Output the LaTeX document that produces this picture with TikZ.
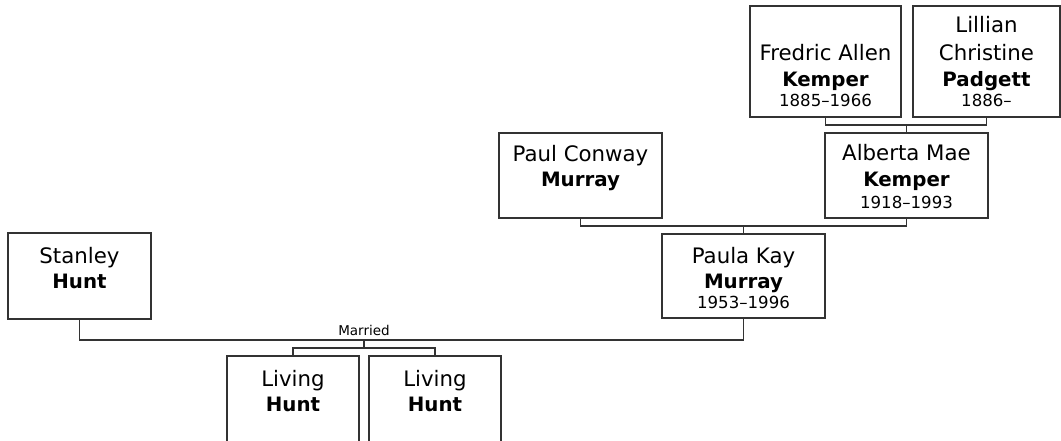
\documentclass[tikz,border=0pt]{standalone}
\usepackage{fontspec}
\setmainfont{DejaVu Sans}
\begin{document}
\begin{tikzpicture}[x=1pt,y=-1pt,
  pbox/.style={draw=black!80, line width=1.3pt, fill=white, inner sep=0pt},
  conn/.style={draw=black!80, line width=1.3pt},
  nm/.style={anchor=base, inner sep=0pt, font=\fontsize{21.3}{24}\selectfont},
  sn/.style={anchor=base, inner sep=0pt, font=\fontsize{19.8}{24}\selectfont\bfseries},
  dt/.style={anchor=base, inner sep=0pt, font=\fontsize{16.6}{18}\selectfont},
  lbl/.style={anchor=base, inner sep=0pt, font=\fontsize{13.5}{15}\selectfont}]
\useasboundingbox (0,0) rectangle (1061,441);
% boxes: name, left, top, right, bottom
\newcommand\pbox[5]{\node[pbox, minimum width={(#4-#2)*1pt}, minimum height={(#5-#3)*1pt}] (#1) at ({(#2+#4)/2},{(#3+#5)/2}) {};}
\pbox{fred}{750}{6}{901}{117}
\pbox{lill}{913}{6}{1060}{117}
\pbox{paul}{499}{133}{662}{218}
\pbox{albe}{825}{133}{988}{218}
\pbox{paula}{662}{234}{825}{318}
\pbox{stan}{8}{233}{151}{319}
\pbox{liv1}{227}{356}{359}{447}
\pbox{liv2}{369}{356}{501}{447}
% texts
\node[nm] (fred1) at (825.5,61) {Fredric Allen};
\node[sn] (fred2) at (825.5,87) {Kemper};
\node[dt] (fred3) at (825.5,107) {1885–1966};
\node[nm] (lill1) at (986.5,33) {Lillian};
\node[nm] (lill2) at (986.5,61) {Christine};
\node[sn] (lill3) at (986.5,87) {Padgett};
\node[dt] (lill4) at (986.5,107) {1886–};
\node[nm] (paul1) at (580.5,162) {Paul Conway};
\node[sn] (paul2) at (580.5,187) {Murray};
\node[nm] (albe1) at (906.5,161) {Alberta Mae};
\node[sn] (albe2) at (906.5,187) {Kemper};
\node[dt] (albe3) at (906.5,208) {1918–1993};
\node[nm] (paula1) at (743.5,263) {Paula Kay};
\node[sn] (paula2) at (743.5,288) {Murray};
\node[dt] (paula3) at (743.5,308) {1953–1996};
\node[nm] (stan1) at (79.5,263) {Stanley};
\node[sn] (stan2) at (79.5,288) {Hunt};
\node[nm] (liv1a) at (293,386) {Living};
\node[sn] (liv1b) at (293,411) {Hunt};
\node[nm] (liv2a) at (435,386) {Living};
\node[sn] (liv2b) at (435,411) {Hunt};
% connectors
\coordinate (fam1) at (906.5,125);
\draw[conn] (fred.south) |- (fam1) -| (lill.south);
\draw[conn] (fam1) -- (albe.north);
\coordinate (fam2) at (743.5,226);
\draw[conn] (paul.south) |- (fam2) -| (albe.south);
\draw[conn] (fam2) -- (paula.north);
\coordinate (fam3) at (364,340);
\draw[conn] (stan.south) |- (fam3) -| (paula.south);
\node[lbl] (married) at (364,335) {Married};
\coordinate (kids) at (364,348);
\draw[conn] (fam3) -- (kids);
\draw[conn] (liv1.north) |- (kids) -| (liv2.north);
\end{tikzpicture}
\end{document}
